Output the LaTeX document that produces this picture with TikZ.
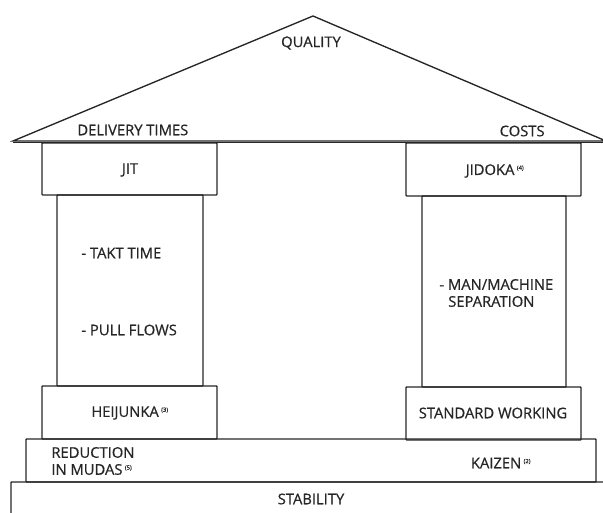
\documentclass[tikz,border=0pt]{standalone}
\usepackage{fontspec}
\setmainfont{Open Sans}
\newfontfamily\lblfont[FakeBold=0.6]{Open Sans}
\usepackage{tikz}
\usetikzlibrary{positioning}

\tikzset{
  part/.style={draw=black!85,line width=1.15pt,rounded corners=0.6pt},
  lbl/.style={font=\lblfont\fontsize{12.6}{14.5}\selectfont,text=black!85,inner sep=1pt},
}
\newcommand{\fnref}[1]{\,\textsuperscript{\tiny(#1)}}

\begin{document}
\begin{tikzpicture}[x=0.03cm,y=-0.03cm]
\useasboundingbox (0,0) rectangle (603,513);
% roof
\draw[part,rounded corners=0pt](13,141)--(313,16)--(606,141)--cycle;
\draw[part](13,142.5)--(606,142.5);
\node[lbl](quality) at (311,43){QUALITY};
\node[lbl,anchor=west](delivery) at (76,130){DELIVERY TIMES};
\node[lbl,anchor=east](costs) at (546,131){COSTS};
% pillars
\draw[part](57,195)rectangle(203,386);
\draw[part](422,196)rectangle(566,387);
\draw[part](42,143)rectangle(217,195);
\draw[part](406,143)rectangle(581,196);
\node[lbl](jit) at (130,170){JIT};
\node[lbl](jidoka) at (495,171){JIDOKA\fnref{4}};
\node[lbl,anchor=west](takt) at (80,253){- TAKT TIME};
\node[lbl,anchor=west](pull) at (80,330){- PULL FLOWS};
\node[lbl,anchor=west,align=left](manmachine) at (438,293){- MAN/MACHINE\\\hspace{0.6em}SEPARATION};
% base
\draw[part](42,386)rectangle(217,439);
\draw[part](406,387)rectangle(581,440);
\node[lbl](heijunka) at (130,413){HEIJUNKA\fnref{3}};
\node[lbl](standard) at (493,413){STANDARD WORKING};
\draw[part](26,439)rectangle(596,482);
\node[lbl,anchor=west,align=left](mudas) at (50,461){REDUCTION\\IN MUDAS\fnref{5}};
\node[lbl](kaizen) at (501,463){KAIZEN\fnref{2}};
\draw[part](11,520)--(11,482)--(610,482);
\node[lbl](stability) at (311,499){STABILITY};
\end{tikzpicture}
\end{document}
